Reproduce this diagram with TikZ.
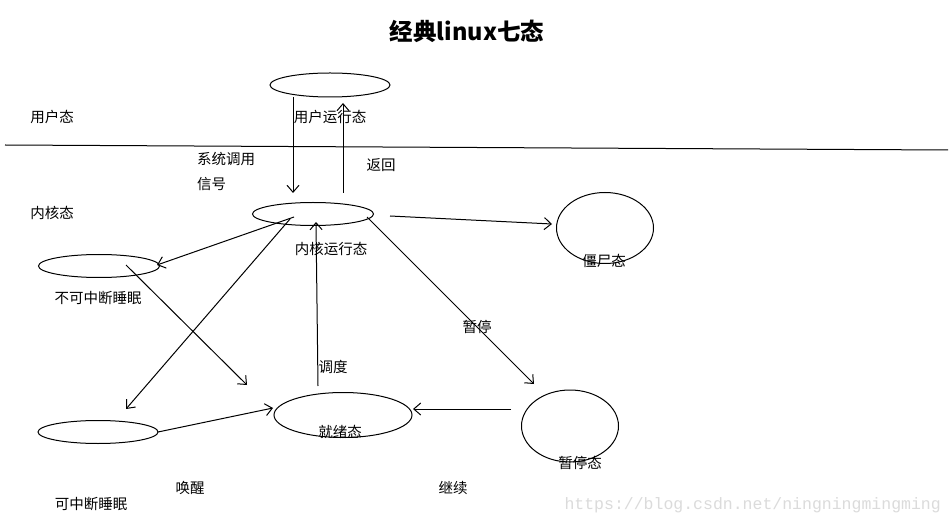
\documentclass[tikz,border=0pt]{standalone}
\usepackage{fontspec}
\newfontfamily\cjk{Noto Sans CJK SC}
\setmonofont{Liberation Mono}
\usetikzlibrary{arrows.meta,shapes.geometric}
\begin{document}
\begin{tikzpicture}[x=1pt,y=-1pt,
  ell/.style={draw, ellipse, line width=1pt, inner sep=0pt},
  lbl/.style={font=\cjk\fontsize{14.5}{16}\selectfont, inner sep=0pt},
  conn/.style={draw, line width=1pt, -{Straight Barb[length=7pt,width=12pt,line width=1pt]}},
  plain/.style={draw, line width=1pt}]
\useasboundingbox[fill=white] (0,0) rectangle (952,526);
% title
\node[font=\cjk\bfseries\fontsize{23.5}{27}\selectfont, inner sep=0pt] (title) at (467,31) {经典linux七态};
% divider
\coordinate (dl) at (5,145);
\coordinate (dr) at (948,150);
\draw[plain] (dl) -- (dr);
% ellipses
\node[ell, minimum width=120pt, minimum height=24pt] (user) at (330,85) {};
\node[ell, minimum width=121pt, minimum height=23pt] (kern) at (313,214) {};
\node[ell, minimum width=121pt, minimum height=23pt] (unint) at (99,266) {};
\node[ell, minimum width=120pt, minimum height=23pt] (intr) at (98,432) {};
\node[ell, minimum width=138pt, minimum height=45pt] (ready) at (343,415) {};
\node[ell, minimum width=97pt, minimum height=71pt] (zombie) at (605,228) {};
\node[ell, minimum width=97pt, minimum height=72pt] (pause) at (570,426) {};
% labels
\node[lbl] (t1) at (330,117) {用户运行态};
\node[lbl] (t2) at (52,117) {用户态};
\node[lbl, anchor=west] (t3) at (197,159) {系统调用};
\node[lbl, anchor=west] (t4) at (197,184) {信号};
\node[lbl] (t5) at (381,165) {返回};
\node[lbl] (t6) at (52,213) {内核态};
\node[lbl] (t7) at (331,249) {内核运行态};
\node[lbl] (t8) at (98,298) {不可中断睡眠};
\node[lbl] (t9) at (604,261) {僵尸态};
\node[lbl] (t10) at (477,327) {暂停};
\node[lbl] (t11) at (333,367) {调度};
\node[lbl] (t12) at (340,432) {就绪态};
\node[lbl] (t13) at (580,463) {暂停态};
\node[lbl] (t14) at (190,488) {唤醒};
\node[lbl] (t15) at (453,488) {继续};
\node[lbl] (t16) at (91,504) {可中断睡眠};
\node[font=\ttfamily\fontsize{16.5}{18}\selectfont, text=black!14, inner sep=0pt, anchor=east] (wm) at (941,505) {https://blog.csdn.net/ningningmingming};
% connector end points
\coordinate (a1s) at (293,97);
\coordinate (a1e) at (293,193);
\coordinate (a2s) at (343,193);
\coordinate (a2e) at (343,103);
\coordinate (a3s) at (294,217);
\coordinate (a3e) at (157,265);
\coordinate (a4s) at (126,265);
\coordinate (a4e) at (247,385);
\coordinate (a5s) at (290,219);
\coordinate (a5e) at (126,409);
\coordinate (a6s) at (367,217);
\coordinate (a6e) at (534,384);
\coordinate (a7s) at (390,216);
\coordinate (a7e) at (552,224);
\coordinate (a8s) at (511,409);
\coordinate (a8e) at (413,409);
\coordinate (a9s) at (318,386);
\coordinate (a9e) at (316,222);
\coordinate (a10s) at (158,432);
\coordinate (a10e) at (273,408);
% connectors
\draw[conn] (a1s) -- (a1e);
\draw[conn] (a2s) -- (a2e);
\draw[conn] (a3s) -- (a3e);
\draw[conn] (a4s) -- (a4e);
\draw[conn] (a5s) -- (a5e);
\draw[conn] (a6s) -- (a6e);
\draw[conn] (a7s) -- (a7e);
\draw[conn] (a8s) -- (a8e);
\draw[conn] (a9s) -- (a9e);
\draw[conn] (a10s) -- (a10e);
\end{tikzpicture}
\end{document}
